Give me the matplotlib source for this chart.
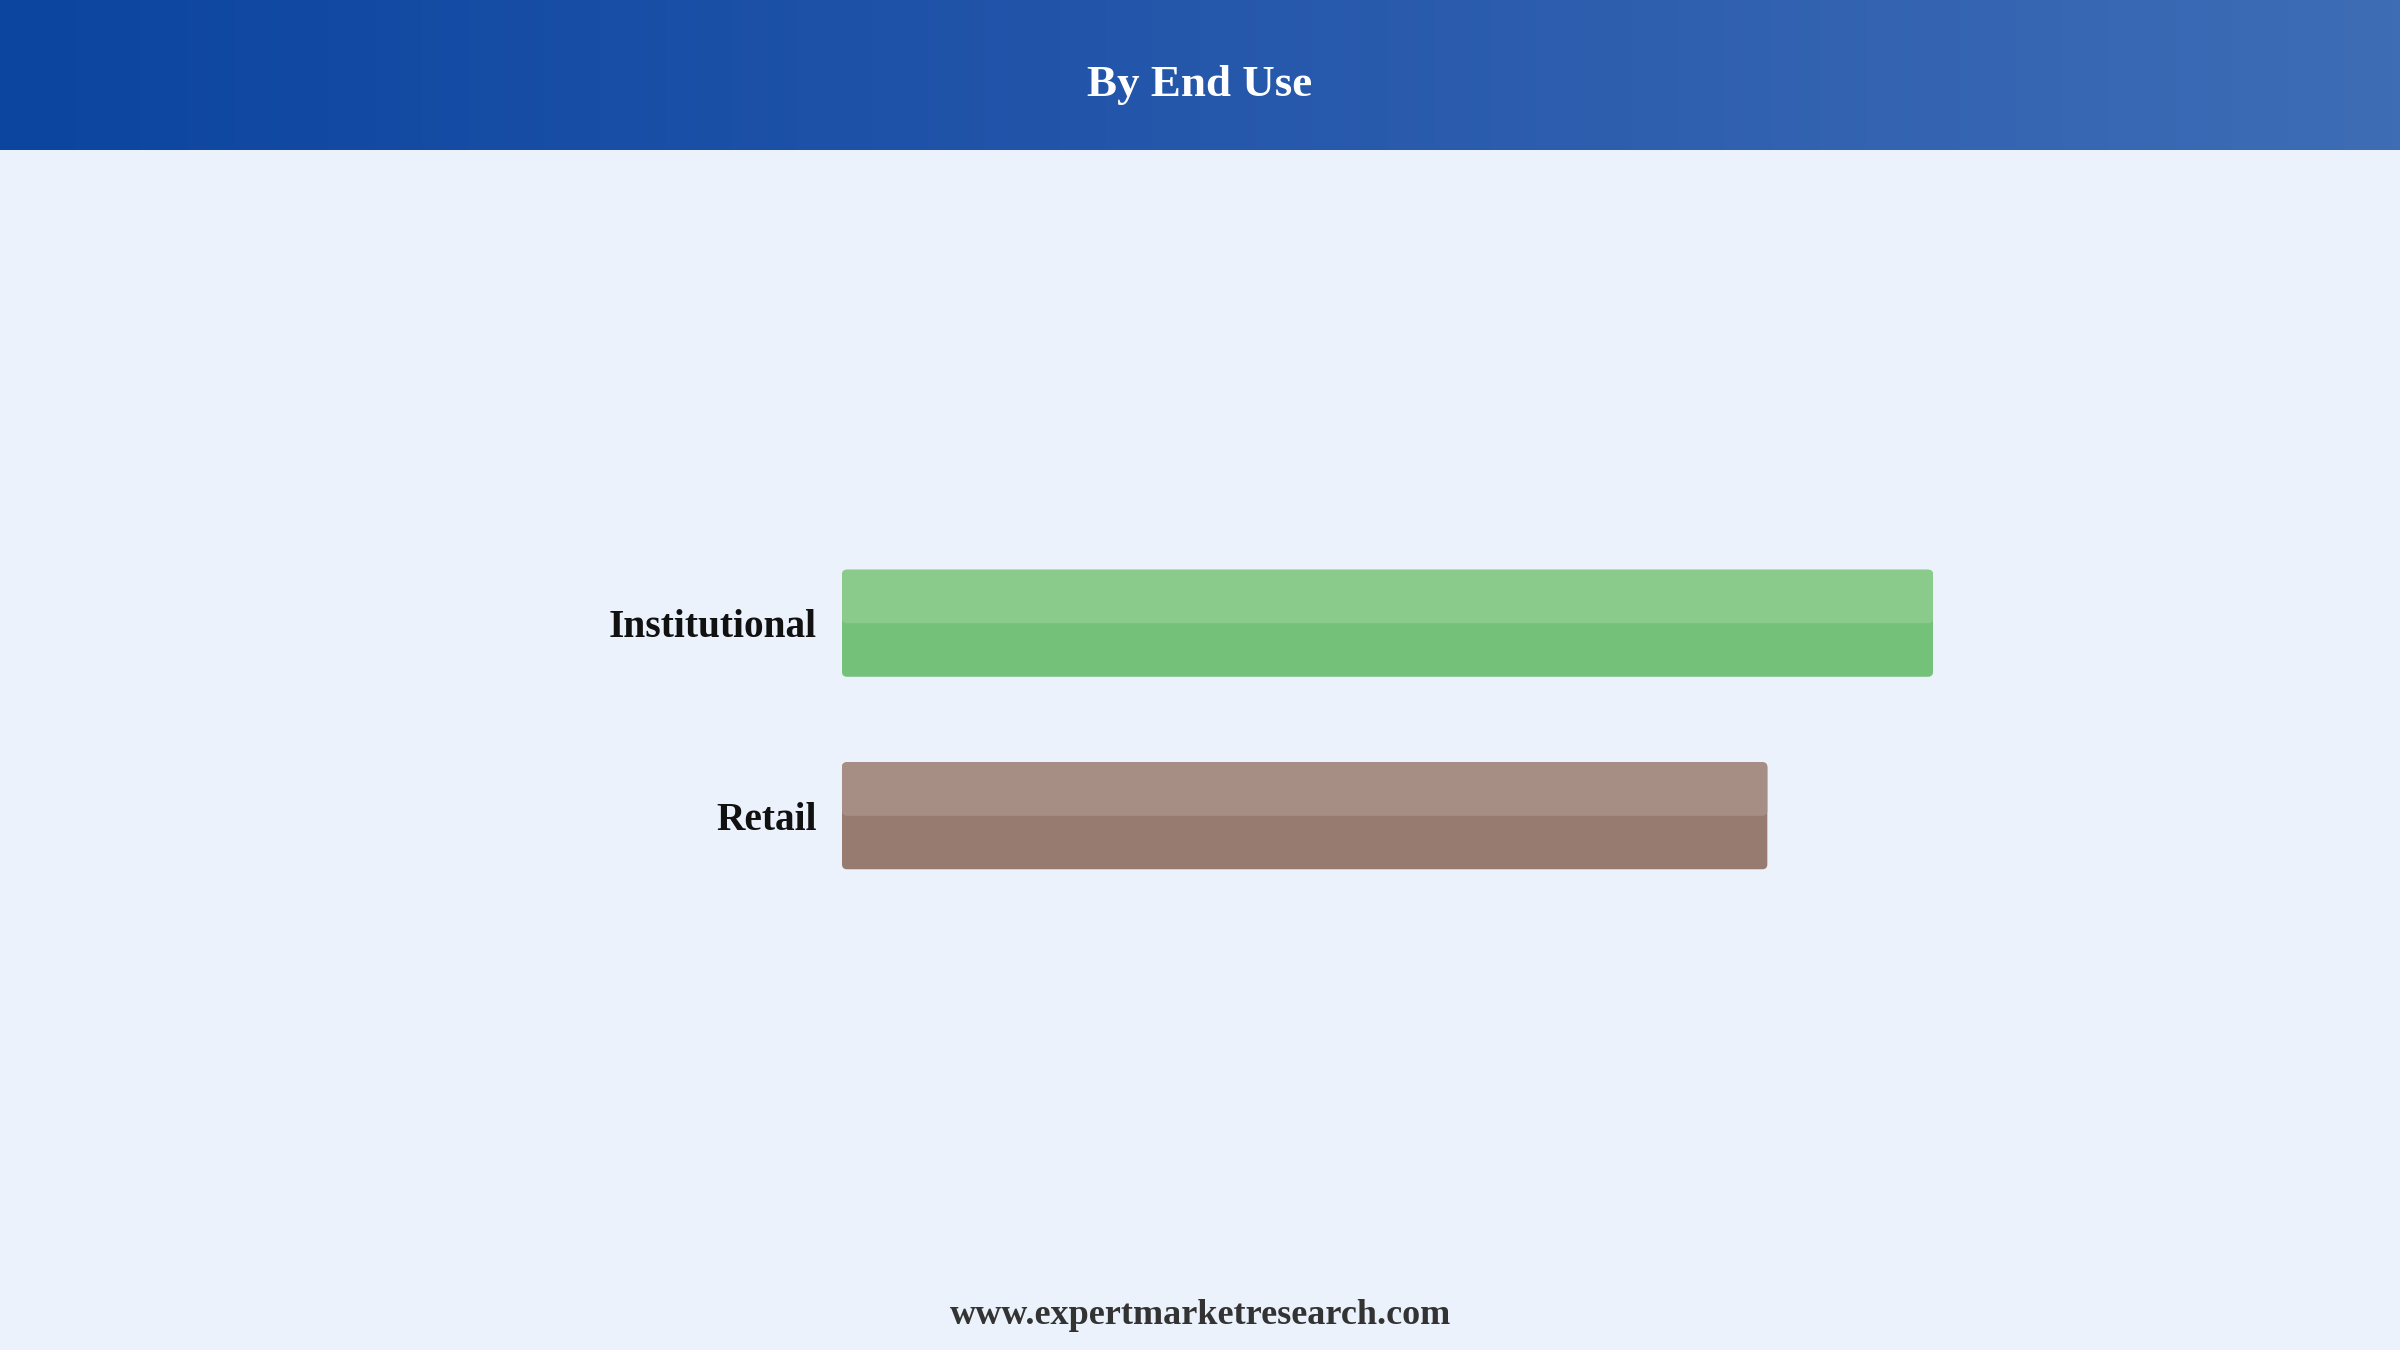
import numpy as np
import matplotlib
matplotlib.use("Agg")
import matplotlib.pyplot as plt
from matplotlib.patches import FancyBboxPatch
from matplotlib.colors import LinearSegmentedColormap

# ---- data ----
categories = ["Institutional", "Retail"]
values = [54, 45.8]
colors_top = ["#8acb8c", "#a78e85"]
colors_bottom = ["#74c17a", "#977a70"]
title = "By End Use"
footer = "www.expertmarketresearch.com"

W, H = 2400, 1350
DPI = 200
fig = plt.figure(figsize=(W / DPI, H / DPI), dpi=DPI)
fig.patch.set_facecolor("#ebf2fc")

# header gradient
hax = fig.add_axes([0, 1 - 150 / H, 1, 150 / H])
cmap = LinearSegmentedColormap.from_list("hdr", ["#0b45a0", "#2557ab", "#3e6db6"])
grad = np.linspace(0, 1, 512).reshape(1, -1)
hax.imshow(grad, aspect="auto", cmap=cmap, extent=[0, 1, 0, 1])
hax.set_xlim(0, 1); hax.set_ylim(0, 1)
hax.axis("off")
hax.text(0.5, 1 - 85 / 150, title, ha="center", va="center", color="white",
         fontsize=16.2, fontweight="bold", family="Liberation Serif")

# bar axes
left_px, right_px = 842, 1933
ax_top_px, ax_bot_px = 527, 912
ax = fig.add_axes([left_px / W, 1 - ax_bot_px / H, (right_px - left_px) / W,
                   (ax_bot_px - ax_top_px) / H])
ax.set_facecolor("none")
ax.set_xlim(0, max(values))
ax.set_ylim(1.5, -0.5)
for s in ax.spines.values():
    s.set_visible(False)
ax.set_xticks([])
ax.set_yticks(range(len(categories)))
ax.set_yticklabels(categories, fontsize=14.2, fontweight="bold",
                   family="Liberation Serif", color="#111111")
ax.tick_params(axis="y", length=0, pad=9)

bar_h = 0.556
px_per_x = (right_px - left_px) / max(values)
px_per_y = (ax_bot_px - ax_top_px) / 2.0
r_px = 5
aspect = px_per_x / px_per_y
r = r_px / px_per_x
for i, v in enumerate(values):
    y0 = i - bar_h / 2
    base = FancyBboxPatch((0, y0), v, bar_h,
                          boxstyle=f"round,pad=0,rounding_size={r}",
                          mutation_aspect=aspect, linewidth=0,
                          facecolor=colors_bottom[i])
    ax.add_patch(base)
    top = FancyBboxPatch((0, y0), v, bar_h / 2,
                         boxstyle=f"round,pad=0,rounding_size={r}",
                         mutation_aspect=aspect, linewidth=0,
                         facecolor=colors_top[i])
    ax.add_patch(top)

fig.text(0.5, 1 - 1316 / H, footer, ha="center", va="center", color="#333333",
         fontsize=13.0, fontweight="bold", family="Liberation Serif")

fig.savefig("out.png", dpi=DPI, facecolor=fig.get_facecolor())
